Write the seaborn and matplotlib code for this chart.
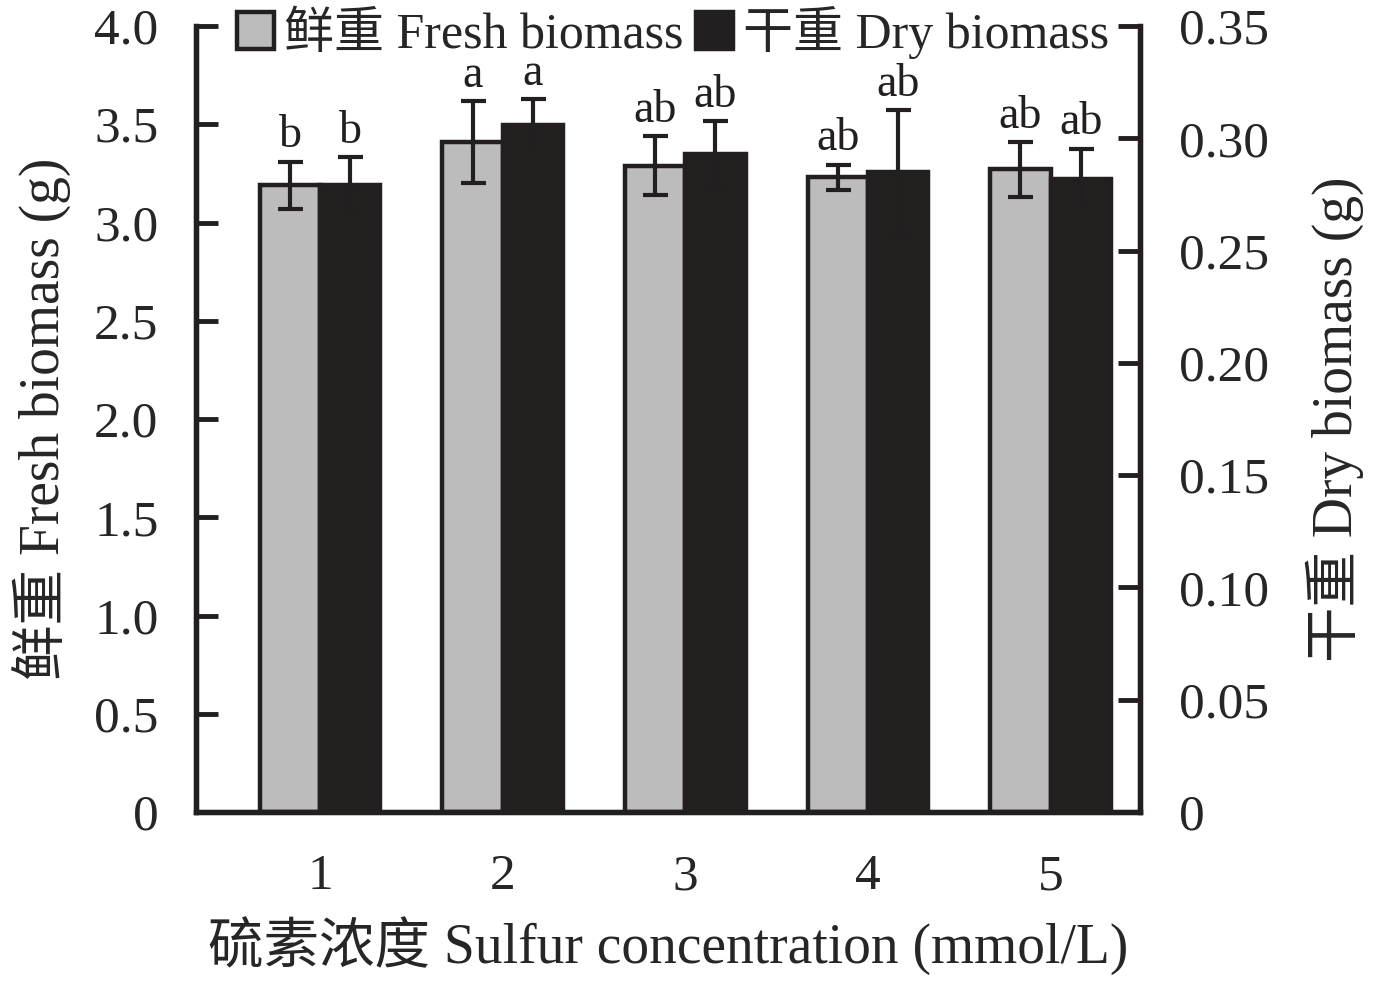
from matplotlib import pyplot as plt
from matplotlib import ticker as ticker
from matplotlib.patches import Patch
import pandas as pd
import seaborn as sns

sns.set_style('white')
plt.rcParams['font.family'] = ['Liberation Serif', 'Noto Sans CJK SC']
plt.rcParams['axes.unicode_minus'] = False

# values
conc = ['1', '2', '3', '4', '5']
fresh = [3.19, 3.41, 3.29, 3.23, 3.27]
fresh_err = [0.12, 0.21, 0.15, 0.065, 0.14]
dry = [0.279, 0.306, 0.293, 0.285, 0.282]
dry_err = [0.0125, 0.0116, 0.0147, 0.0276, 0.0134]
fresh_letters = ['b', 'a', 'ab', 'ab', 'ab']
dry_letters = ['b', 'a', 'ab', 'ab', 'ab']

left_ticks = [0, 0.5, 1.0, 1.5, 2.0, 2.5, 3.0, 3.5, 4.0]
left_labels = ['0', '0.5', '1.0', '1.5', '2.0', '2.5', '3.0', '3.5', '4.0']
right_ticks = [0, 0.05, 0.10, 0.15, 0.20, 0.25, 0.30, 0.35]
right_labels = ['0', '0.05', '0.10', '0.15', '0.20', '0.25', '0.30', '0.35']

levels = ['fresh', 'dry']
gray = '#bcbcbc'
black = '#231f20'

dff = pd.DataFrame({'conc': conc, 'kind': 'fresh', 'value': fresh})
dfd = pd.DataFrame({'conc': conc, 'kind': 'dry', 'value': dry})

fs_tick = 37
fs_lab = 40
lw = 3.2

fig = plt.figure(figsize=(13.78, 9.84), dpi=100)
ax1 = fig.add_axes([196/1378, 1-812/984, (1140-196)/1378, (812-26)/984])
ax2 = ax1.twinx()

sns.barplot(x='conc', y='value', hue='kind', hue_order=levels, data=dff, ax=ax1,
            palette={'fresh': gray, 'dry': black}, width=0.66, dodge=True,
            errorbar=None, edgecolor=black, linewidth=lw, legend=False)
sns.barplot(x='conc', y='value', hue='kind', hue_order=levels, data=dfd, ax=ax2,
            palette={'fresh': gray, 'dry': black}, width=0.66, dodge=True,
            errorbar=None, edgecolor=black, linewidth=lw, legend=False)

def add_err(ax, vals, errs, letters):
    bars = [p for p in ax.patches if p.get_height() > 0]
    xs = [p.get_x() + p.get_width()/2 for p in bars]
    ax.errorbar(xs, vals, yerr=errs, fmt='none', ecolor=black, elinewidth=3,
                capsize=9, capthick=3, zorder=5)
    for x, v, e, t in zip(xs, vals, errs, letters):
        ax.annotate(t, (x, v + e), xytext=(0, 3), textcoords='offset points',
                    ha='center', va='bottom', fontsize=33, color=black)

add_err(ax1, fresh, fresh_err, fresh_letters)
add_err(ax2, dry, dry_err, dry_letters)

for ax in (ax1, ax2):
    ax.set_xlim(-0.68, 4.49)
    ax.spines['top'].set_visible(False)
    for s in ax.spines.values():
        s.set_linewidth(3.8)
        s.set_color(black)
    ax.grid(False)

ax1.set_ylim(0, 4.0)
ax2.set_ylim(0, 0.35)
ax1.set_yticks(left_ticks)
ax1.set_yticklabels(left_labels)
ax2.set_yticks(right_ticks)
ax2.set_yticklabels(right_labels)

ax1.xaxis.set_minor_locator(ticker.FixedLocator([0.5, 1.5, 2.5, 3.5]))
ax1.tick_params(axis='x', which='major', length=0, pad=30, labelsize=fs_tick)
ax1.tick_params(axis='x', which='minor', direction='in', length=8, width=3.5, color=black)
ax1.tick_params(axis='y', direction='in', length=16, width=3.5, pad=27, labelsize=fs_tick,
                color=black, left=True)
ax2.tick_params(axis='y', direction='in', length=16, width=3.5, pad=28, labelsize=fs_tick,
                color=black, right=True)

ax1.set_xlabel('硫素浓度 Sulfur concentration (mmol/L)', fontsize=fs_lab, labelpad=12)
ax1.set_ylabel('鲜重 Fresh biomass (g)', fontsize=fs_lab, labelpad=16)
ax2.set_ylabel('干重 Dry biomass (g)', fontsize=fs_lab, labelpad=26, rotation=90)

handles = [Patch(facecolor=gray, edgecolor=black, linewidth=lw),
           Patch(facecolor=black, edgecolor=black, linewidth=lw)]
leg = ax2.legend(handles, ['鲜重 Fresh biomass', '干重 Dry biomass'], ncol=2,
                 loc='center', bbox_to_anchor=(0.505, 0.992), fontsize=36,
                 frameon=False, handlelength=0.74, handleheight=0.74,
                 handletextpad=0.2, columnspacing=0.25, borderpad=0.0, borderaxespad=0)
leg.set_zorder(10)

plt.savefig('out.png', dpi=100)
